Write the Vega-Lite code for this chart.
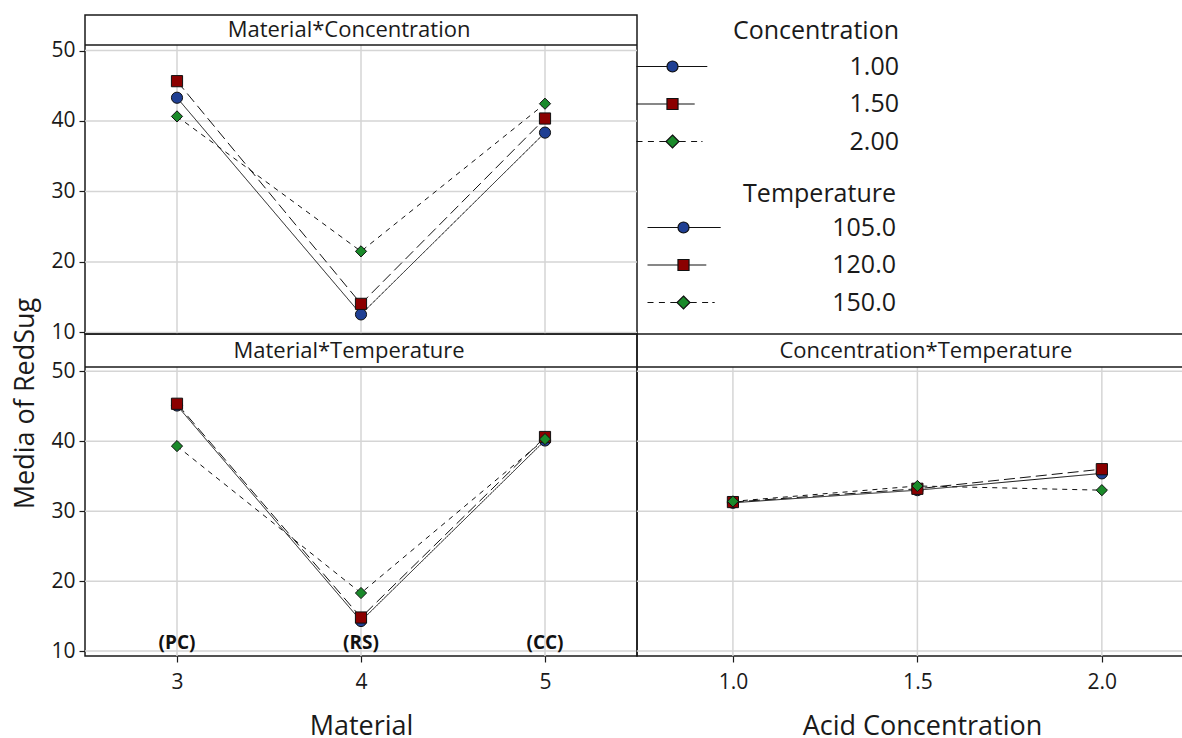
{
  "$schema": "https://vega.github.io/schema/vega-lite/v6.json",
  "padding": {"left": 10, "top": 14, "right": 0, "bottom": 0},
  "background": "white",
  "datasets": {
    "mc": [
      {"Material": 3, "Concentration": "1.00", "RedSug": 43.3},
      {"Material": 4, "Concentration": "1.00", "RedSug": 12.55},
      {"Material": 5, "Concentration": "1.00", "RedSug": 38.35},
      {"Material": 3, "Concentration": "1.50", "RedSug": 45.65},
      {"Material": 4, "Concentration": "1.50", "RedSug": 14.05},
      {"Material": 5, "Concentration": "1.50", "RedSug": 40.35},
      {"Material": 3, "Concentration": "2.00", "RedSug": 40.65},
      {"Material": 4, "Concentration": "2.00", "RedSug": 21.5},
      {"Material": 5, "Concentration": "2.00", "RedSug": 42.45}
    ],
    "mt": [
      {"Material": 3, "Temperature": "105.0", "RedSug": 45.1},
      {"Material": 4, "Temperature": "105.0", "RedSug": 14.3},
      {"Material": 5, "Temperature": "105.0", "RedSug": 40.1},
      {"Material": 3, "Temperature": "120.0", "RedSug": 45.35},
      {"Material": 4, "Temperature": "120.0", "RedSug": 14.8},
      {"Material": 5, "Temperature": "120.0", "RedSug": 40.6},
      {"Material": 3, "Temperature": "150.0", "RedSug": 39.3},
      {"Material": 4, "Temperature": "150.0", "RedSug": 18.3},
      {"Material": 5, "Temperature": "150.0", "RedSug": 40.3}
    ],
    "ct": [
      {"Acid": 1.0, "Temperature": "105.0", "RedSug": 31.2},
      {"Acid": 1.5, "Temperature": "105.0", "RedSug": 33.0},
      {"Acid": 2.0, "Temperature": "105.0", "RedSug": 35.4},
      {"Acid": 1.0, "Temperature": "120.0", "RedSug": 31.3},
      {"Acid": 1.5, "Temperature": "120.0", "RedSug": 33.2},
      {"Acid": 2.0, "Temperature": "120.0", "RedSug": 36.0},
      {"Acid": 1.0, "Temperature": "150.0", "RedSug": 31.4},
      {"Acid": 1.5, "Temperature": "150.0", "RedSug": 33.6},
      {"Acid": 2.0, "Temperature": "150.0", "RedSug": 33.0}
    ],
    "codes": [
      {"Material": 3, "code": "(PC)"},
      {"Material": 4, "code": "(RS)"},
      {"Material": 5, "code": "(CC)"}
    ],
    "gridMat": [{"g": 3}, {"g": 4}, {"g": 5}],
    "gridAcid": [{"g": 1.0}, {"g": 1.5}, {"g": 2.0}],
    "gridY": [{"v": 10}, {"v": 20}, {"v": 30}, {"v": 40}, {"v": 50}]
  },
  "spacing": 0,
  "bounds": "flush",
  "resolve": {"scale": {"color": "independent", "shape": "independent", "strokeDash": "independent", "stroke": "independent"}, "legend": {"color": "independent", "shape": "independent", "strokeDash": "independent", "stroke": "independent"}},
  "vconcat": [
    {
      "width": 552, "height": 319,
      "resolve": {"scale": {"color": "independent", "shape": "independent", "strokeDash": "independent", "stroke": "independent"}, "legend": {"color": "independent", "shape": "independent", "strokeDash": "independent", "stroke": "independent"}},
      "layer": [
        {
          "data": {"name": "mc"},
          "mark": {"type": "line", "color": "#111", "strokeWidth": 1, "opacity": 0},
          "encoding": {
            "x": {"field": "Material", "type": "quantitative", "scale": {"domain": [2.5, 5.5], "nice": false, "zero": false}, "axis": {"labels": false, "ticks": false, "title": null, "values": [3, 4, 5]}},
            "y": {"field": "RedSug", "type": "quantitative", "scale": {"domain": [9.77, 55.04], "nice": false, "zero": false}, "axis": {"values": [10, 20, 30, 40, 50], "title": null}}
          }
        },
        {
          "data": {"name": "gridMat"},
          "mark": {"type": "rule", "color": "#d5d5d5", "strokeWidth": 1.5},
          "encoding": {
            "x": {"field": "g", "type": "quantitative"},
            "y": {"datum": 9.77, "type": "quantitative"},
            "y2": {"datum": 50.78}
          }
        },
        {
          "data": {"name": "gridY"},
          "mark": {"type": "rule", "color": "#d5d5d5", "strokeWidth": 1.5},
          "encoding": {
            "y": {"field": "v", "type": "quantitative"},
            "x": {"datum": 2.5, "type": "quantitative"},
            "x2": {"datum": 5.5}
          }
        },
        {
          "data": {"values": [{"t": "Material*Concentration"}]},
          "mark": {"type": "rule", "color": "#1a1a1a", "strokeWidth": 1.5},
          "encoding": {
            "y": {"datum": 50.78, "type": "quantitative"},
            "x": {"datum": 2.5, "type": "quantitative"},
            "x2": {"datum": 5.5}
          }
        },
        {
          "data": {"values": [{"t": "Material*Concentration"}]},
          "mark": {"type": "text", "fontSize": 22, "color": "#1a1a1a", "align": "center", "baseline": "middle"},
          "encoding": {
            "x": {"datum": 3.935, "type": "quantitative"},
            "y": {"datum": 52.91, "type": "quantitative"},
            "text": {"field": "t"}
          }
        },
        {
          "data": {"name": "mc"},
          "mark": {"type": "line", "color": "#111", "strokeWidth": 1},
          "encoding": {
            "x": {"field": "Material", "type": "quantitative"},
            "y": {"field": "RedSug", "type": "quantitative"},
            "strokeDash": {"field": "Concentration", "type": "nominal", "scale": {"domain": ["1.00", "1.50", "2.00"], "range": [[1, 0], [11, 5], [5, 5]]}, "legend": null}
          }
        },
        {
          "data": {"name": "mc"},
          "mark": {"type": "point", "filled": true, "size": 125, "stroke": "#111", "strokeWidth": 1, "opacity": 1},
          "encoding": {
            "x": {"field": "Material", "type": "quantitative"},
            "y": {"field": "RedSug", "type": "quantitative"},
            "shape": {"field": "Concentration", "type": "nominal", "scale": {"domain": ["1.00", "1.50", "2.00"], "range": ["circle", "square", "diamond"]}, "legend": null},
            "color": {"field": "Concentration", "type": "nominal", "scale": {"domain": ["1.00", "1.50", "2.00"], "range": ["#1f3f93", "#8b0000", "#1a8a2a"]}, "legend": null}
          }
        },
        {
          "data": {"name": "mc"},
          "mark": {"type": "point", "filled": true, "size": 144, "strokeWidth": 1.2, "opacity": 0},
          "encoding": {
            "x": {"field": "Material", "type": "quantitative"},
            "y": {"field": "RedSug", "type": "quantitative"},
            "shape": {"field": "Concentration", "type": "nominal",
              "scale": {"domain": ["1.00", "1.50", "2.00"], "range": [
                "M-6,0H-0.92M0.92,0H5.8M0.92,0A0.92,0.92,0,1,1,-0.92,0A0.92,0.92,0,1,1,0.92,0Z",
                "M-6,0H-0.92M0.92,0H3.7M-0.92,-0.92H0.92V0.92H-0.92Z",
                "M-6,0H-5M-4.1,0H-3.1M-2.2,0H-1.08M1.08,0H2.2M3.1,0H4.1M4.8,0H5M0,-1.08L1.08,0L0,1.08L-1.08,0Z"
              ]},
              "legend": {
                "orient": "right", "offset": 19,
                "title": "Concentration", "titleAnchor": "end", "titlePadding": 10,
                "labelAlign": "right", "labelOffset": 214, "labelLimit": 400,
                "symbolSize": 144, "rowPadding": 11.5, "padding": 4,
                "symbolOpacity": 1, "symbolStrokeWidth": 1.2
              }
            },
            "color": {"field": "Concentration", "type": "nominal", "scale": {"domain": ["1.00", "1.50", "2.00"], "range": ["#1f3f93", "#8b0000", "#1a8a2a"]},
              "legend": {
                "orient": "right", "offset": 19,
                "title": "Concentration", "titleAnchor": "end", "titlePadding": 10,
                "labelAlign": "right", "labelOffset": 214, "labelLimit": 400,
                "symbolSize": 144, "rowPadding": 11.5, "padding": 4,
                "symbolOpacity": 1, "symbolStrokeWidth": 1.2
              }
            },
            "stroke": {"field": "Concentration", "type": "nominal", "scale": {"domain": ["1.00", "1.50", "2.00"], "range": ["#111111", "#111111", "#111111"]},
              "legend": {
                "orient": "right", "offset": 19,
                "title": "Concentration", "titleAnchor": "end", "titlePadding": 10,
                "labelAlign": "right", "labelOffset": 214, "labelLimit": 400,
                "symbolSize": 144, "rowPadding": 11.5, "padding": 4,
                "symbolOpacity": 1, "symbolStrokeWidth": 1.2
              }
            }
          }
        },
        {
          "data": {"name": "mt"},
          "mark": {"type": "point", "filled": true, "size": 144, "strokeWidth": 1.2, "opacity": 0},
          "encoding": {
            "x": {"field": "Material", "type": "quantitative"},
            "y": {"field": "RedSug", "type": "quantitative"},
            "shape": {"field": "Temperature", "type": "nominal",
              "scale": {"domain": ["105.0", "120.0", "150.0"], "range": [
                "M-6,0H-0.92M0.92,0H6.2M0.92,0A0.92,0.92,0,1,1,-0.92,0A0.92,0.92,0,1,1,0.92,0Z",
                "M-6,0H-0.92M0.92,0H3.8M-0.92,-0.92H0.92V0.92H-0.92Z",
                "M-6,0H-5M-4.1,0H-3.1M-2.2,0H-1.08M1.08,0H2.2M3.1,0H4.1M4.8,0H5.2M0,-1.08L1.08,0L0,1.08L-1.08,0Z"
              ]},
              "legend": {
                "orient": "right", "offset": 19,
                "title": "Temperature", "titleAnchor": "end", "titlePadding": 8,
                "labelAlign": "right", "labelOffset": 200, "labelLimit": 400,
                "symbolSize": 144, "rowPadding": 11.5, "padding": 15,
                "symbolOpacity": 1, "symbolStrokeWidth": 1.2
              }
            },
            "color": {"field": "Temperature", "type": "nominal", "scale": {"domain": ["105.0", "120.0", "150.0"], "range": ["#1f3f93", "#8b0000", "#1a8a2a"]},
              "legend": {
                "orient": "right", "offset": 19,
                "title": "Temperature", "titleAnchor": "end", "titlePadding": 8,
                "labelAlign": "right", "labelOffset": 200, "labelLimit": 400,
                "symbolSize": 144, "rowPadding": 11.5, "padding": 15,
                "symbolOpacity": 1, "symbolStrokeWidth": 1.2
              }
            },
            "stroke": {"field": "Temperature", "type": "nominal", "scale": {"domain": ["105.0", "120.0", "150.0"], "range": ["#111111", "#111111", "#111111"]},
              "legend": {
                "orient": "right", "offset": 19,
                "title": "Temperature", "titleAnchor": "end", "titlePadding": 8,
                "labelAlign": "right", "labelOffset": 200, "labelLimit": 400,
                "symbolSize": 144, "rowPadding": 11.5, "padding": 15,
                "symbolOpacity": 1, "symbolStrokeWidth": 1.2
              }
            }
          }
        }
      ]
    },
    {
      "spacing": 0,
      "bounds": "flush",
      "resolve": {"scale": {"color": "independent", "shape": "independent", "strokeDash": "independent", "stroke": "independent"}, "legend": {"color": "independent", "shape": "independent", "strokeDash": "independent", "stroke": "independent"}},
      "hconcat": [
        {
          "width": 552, "height": 322,
          "layer": [
            {
              "data": {"name": "mt"},
              "mark": {"type": "line", "color": "#111", "strokeWidth": 1, "opacity": 0},
              "encoding": {
                "x": {"field": "Material", "type": "quantitative", "scale": {"domain": [2.5, 5.5], "nice": false, "zero": false}, "axis": {"values": [3, 4, 5], "format": "d", "title": "Material"}},
                "y": {"field": "RedSug", "type": "quantitative", "scale": {"domain": [9.3, 55.32], "nice": false, "zero": false}, "axis": {"values": [10, 20, 30, 40, 50], "title": "Media of RedSug", "titleX": -52, "titleY": 69, "titleBaseline": "alphabetic", "titleAlign": "center"}}
              }
            },
            {
              "data": {"name": "gridMat"},
              "mark": {"type": "rule", "color": "#d5d5d5", "strokeWidth": 1.5},
              "encoding": {
                "x": {"field": "g", "type": "quantitative"},
                "y": {"datum": 9.3, "type": "quantitative"},
                "y2": {"datum": 50.6}
              }
            },
            {
              "data": {"name": "gridY"},
              "mark": {"type": "rule", "color": "#d5d5d5", "strokeWidth": 1.5},
              "encoding": {
                "y": {"field": "v", "type": "quantitative"},
                "x": {"datum": 2.5, "type": "quantitative"},
                "x2": {"datum": 5.5}
              }
            },
            {
              "data": {"values": [{"t": "Material*Temperature"}]},
              "mark": {"type": "rule", "color": "#1a1a1a", "strokeWidth": 1.5},
              "encoding": {
                "y": {"datum": 50.6, "type": "quantitative"},
                "x": {"datum": 2.5, "type": "quantitative"},
                "x2": {"datum": 5.5}
              }
            },
            {
              "data": {"values": [{"t": "Material*Temperature"}]},
              "mark": {"type": "text", "fontSize": 22, "color": "#1a1a1a", "align": "center", "baseline": "middle"},
              "encoding": {
                "x": {"datum": 3.935, "type": "quantitative"},
                "y": {"datum": 52.96, "type": "quantitative"},
                "text": {"field": "t"}
              }
            },
            {
              "data": {"name": "mt"},
              "mark": {"type": "line", "color": "#111", "strokeWidth": 1},
              "encoding": {
                "x": {"field": "Material", "type": "quantitative"},
                "y": {"field": "RedSug", "type": "quantitative"},
                "strokeDash": {"field": "Temperature", "type": "nominal", "scale": {"domain": ["105.0", "120.0", "150.0"], "range": [[1, 0], [11, 5], [5, 5]]}, "legend": null}
              }
            },
            {
              "data": {"name": "mt"},
              "mark": {"type": "point", "filled": true, "size": 125, "stroke": "#111", "strokeWidth": 1, "opacity": 1},
              "encoding": {
                "x": {"field": "Material", "type": "quantitative"},
                "y": {"field": "RedSug", "type": "quantitative"},
                "shape": {"field": "Temperature", "type": "nominal", "scale": {"domain": ["105.0", "120.0", "150.0"], "range": ["circle", "square", "diamond"]}, "legend": null},
                "color": {"field": "Temperature", "type": "nominal", "scale": {"domain": ["105.0", "120.0", "150.0"], "range": ["#1f3f93", "#8b0000", "#1a8a2a"]}, "legend": null}
              }
            },
            {
              "data": {"name": "codes"},
              "mark": {"type": "text", "fontSize": 19, "fontWeight": "bold", "color": "#111", "align": "center", "baseline": "middle"},
              "encoding": {
                "x": {"field": "Material", "type": "quantitative"},
                "y": {"datum": 11.1, "type": "quantitative"},
                "text": {"field": "code"}
              }
            }
          ]
        },
        {
          "width": 570, "height": 322,
          "layer": [
            {
              "data": {"name": "ct"},
              "mark": {"type": "line", "color": "#111", "strokeWidth": 1, "opacity": 0},
              "encoding": {
                "x": {"field": "Acid", "type": "quantitative", "scale": {"domain": [0.74, 2.285], "nice": false, "zero": false}, "axis": {"values": [1, 1.5, 2], "format": ".1f", "title": "Acid Concentration"}},
                "y": {"field": "RedSug", "type": "quantitative", "scale": {"domain": [9.3, 55.32], "nice": false, "zero": false}, "axis": {"values": [10, 20, 30, 40, 50], "labels": false, "ticks": false, "title": null}}
              }
            },
            {
              "data": {"name": "gridAcid"},
              "mark": {"type": "rule", "color": "#d5d5d5", "strokeWidth": 1.5},
              "encoding": {
                "x": {"field": "g", "type": "quantitative"},
                "y": {"datum": 9.3, "type": "quantitative"},
                "y2": {"datum": 50.6}
              }
            },
            {
              "data": {"name": "gridY"},
              "mark": {"type": "rule", "color": "#d5d5d5", "strokeWidth": 1.5},
              "encoding": {
                "y": {"field": "v", "type": "quantitative"},
                "x": {"datum": 0.74, "type": "quantitative"},
                "x2": {"datum": 2.285}
              }
            },
            {
              "data": {"values": [{"t": "Concentration*Temperature"}]},
              "mark": {"type": "rule", "color": "#1a1a1a", "strokeWidth": 1.5},
              "encoding": {
                "y": {"datum": 50.6, "type": "quantitative"},
                "x": {"datum": 0.74, "type": "quantitative"},
                "x2": {"datum": 2.285}
              }
            },
            {
              "data": {"values": [{"t": "Concentration*Temperature"}]},
              "mark": {"type": "text", "fontSize": 22, "color": "#1a1a1a", "align": "center", "baseline": "middle"},
              "encoding": {
                "x": {"datum": 1.523, "type": "quantitative"},
                "y": {"datum": 52.96, "type": "quantitative"},
                "text": {"field": "t"}
              }
            },
            {
              "data": {"name": "ct"},
              "mark": {"type": "line", "color": "#111", "strokeWidth": 1},
              "encoding": {
                "x": {"field": "Acid", "type": "quantitative"},
                "y": {"field": "RedSug", "type": "quantitative"},
                "strokeDash": {"field": "Temperature", "type": "nominal", "scale": {"domain": ["105.0", "120.0", "150.0"], "range": [[1, 0], [11, 5], [5, 5]]}, "legend": null}
              }
            },
            {
              "data": {"name": "ct"},
              "mark": {"type": "point", "filled": true, "size": 125, "stroke": "#111", "strokeWidth": 1, "opacity": 1},
              "encoding": {
                "x": {"field": "Acid", "type": "quantitative"},
                "y": {"field": "RedSug", "type": "quantitative"},
                "shape": {"field": "Temperature", "type": "nominal", "scale": {"domain": ["105.0", "120.0", "150.0"], "range": ["circle", "square", "diamond"]}, "legend": null},
                "color": {"field": "Temperature", "type": "nominal", "scale": {"domain": ["105.0", "120.0", "150.0"], "range": ["#1f3f93", "#8b0000", "#1a8a2a"]}, "legend": null}
              }
            }
          ]
        }
      ]
    }
  ],
  "config": {
    "font": "Open Sans",
    "view": {"stroke": "#1a1a1a", "strokeWidth": 1.5},
    "axis": {
      "grid": false,
      "labelFont": "Open Sans", "labelFontSize": 21, "labelColor": "#1a1a1a",
      "tickColor": "#1a1a1a", "tickSize": 6, "tickWidth": 1.2,
      "domain": false,
      "titleFont": "Open Sans", "titleFontSize": 27, "titleFontWeight": "normal", "titleColor": "#1a1a1a"
    },
    "axisY": {"labelPadding": 4},
    "axisX": {"labelPadding": 9, "titlePadding": 21},
    "legend": {
      "labelFont": "Open Sans", "labelFontSize": 25, "labelColor": "#1a1a1a",
      "titleFont": "Open Sans", "titleFontSize": 25, "titleFontWeight": "normal", "titleColor": "#1a1a1a"
    }
  }
}
